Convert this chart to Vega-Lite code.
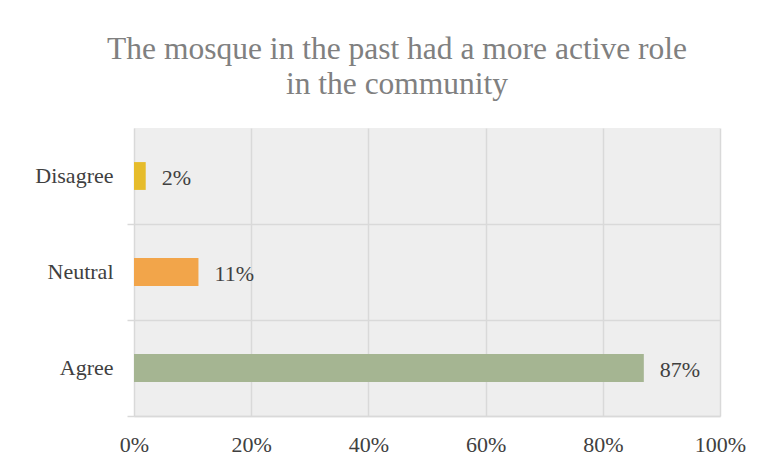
{
  "$schema": "https://vega.github.io/schema/vega-lite/v6.json",
  "width": 586,
  "height": 288,
  "autosize": {"type": "none"},
  "padding": {"left": 134, "top": 128, "right": 47, "bottom": 55},
  "background": "white",
  "title": {
    "text": ["The mosque in the past had a more active role", "in the community"],
    "font": "Liberation Serif",
    "fontSize": 31.5,
    "fontWeight": "normal",
    "color": "#808080",
    "anchor": "middle",
    "dx": -30,
    "lineHeight": 35,
    "offset": 28
  },
  "config": {
    "view": {"fill": "#eeeeee", "stroke": null}
  },
  "data": {
    "values": [
      {"response": "Disagree", "share": 0.02},
      {"response": "Neutral", "share": 0.11},
      {"response": "Agree", "share": 0.87}
    ]
  },
  "encoding": {
    "y": {
      "field": "response",
      "type": "nominal",
      "sort": ["Disagree", "Neutral", "Agree"],
      "scale": {"paddingInner": 0, "paddingOuter": 0},
      "axis": {
        "title": null,
        "labelFont": "Liberation Serif",
        "labelFontSize": 22,
        "labelColor": "#404040",
        "domain": false,
        "ticks": true,
        "tickSize": 7,
        "tickColor": "#d9d9d9",
        "tickWidth": 1.5,
        "bandPosition": 1,
        "grid": true,
        "gridColor": "#d9d9d9",
        "gridWidth": 1.5,
        "labelPadding": 14
      }
    },
    "x": {
      "field": "share",
      "type": "quantitative",
      "scale": {"domain": [0, 1], "nice": false},
      "axis": {
        "title": null,
        "format": ".0%",
        "values": [0, 0.2, 0.4, 0.6, 0.8, 1],
        "grid": true,
        "gridColor": "#d9d9d9",
        "gridWidth": 1.5,
        "ticks": false,
        "domain": true,
        "domainColor": "#d9d9d9",
        "domainWidth": 1.5,
        "labelFont": "Liberation Serif",
        "labelFontSize": 22,
        "labelColor": "#404040",
        "labelPadding": 18,
        "labelFlush": false
      }
    }
  },
  "layer": [
    {
      "mark": {"type": "bar", "height": {"band": 0.29}},
      "encoding": {
        "color": {
          "field": "response",
          "type": "nominal",
          "scale": {"domain": ["Disagree", "Neutral", "Agree"], "range": ["#E6BC2B", "#F2A54A", "#A5B592"]},
          "legend": null
        }
      }
    },
    {
      "mark": {
        "type": "text",
        "align": "left",
        "baseline": "middle",
        "dx": 16,
        "dy": 2,
        "font": "Liberation Serif",
        "fontSize": 22,
        "color": "#404040"
      },
      "encoding": {
        "text": {"field": "share", "type": "quantitative", "format": ".0%"}
      }
    }
  ]
}
